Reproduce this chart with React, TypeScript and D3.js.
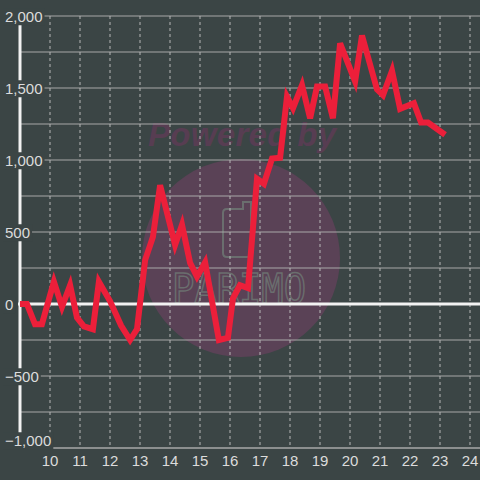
import React, { useEffect, useRef } from "react";
import * as d3 from "d3";

const times = [
  9.0, 9.23, 9.5, 9.73, 10.13, 10.4, 10.67, 10.9, 11.13, 11.43, 11.63, 12.0, 12.37, 12.67, 12.9,
  13.17, 13.43, 13.67, 14.17, 14.4, 14.67, 14.9, 15.17, 15.63, 15.93, 16.1, 16.33, 16.6, 16.9,
  17.13, 17.4, 17.67, 17.9, 18.1, 18.4, 18.67, 18.9, 19.17, 19.43, 19.67, 20.17, 20.4, 20.9,
  21.1, 21.4, 21.67, 22.13, 22.37, 22.6, 23.17,
];
const values = [
  0, 0, -140, -140, 155, -20, 130, -95, -155, -175, 155, 20, -150, -250, -175,
  305, 465, 825, 410, 550, 285, 190, 290, -250, -235, 40, 130, 110, 870,
  835, 1010, 1015, 1440, 1360, 1520, 1290, 1510, 1510, 1290, 1810, 1545, 1865, 1490,
  1450, 1620, 1355, 1395, 1260, 1260, 1175,
];
const yTicks = [-1000, -750, -500, -250, 0, 250, 500, 750, 1000, 1250, 1500, 1750, 2000];
const yLabelTicks = [-1000, -500, 0, 500, 1000, 1500, 2000];
const xTicks = [10, 11, 12, 13, 14, 15, 16, 17, 18, 19, 20, 21, 22, 23, 24];

export default function App() {
  const ref = useRef<SVGSVGElement>(null);
  useEffect(() => {
    const W = 480, H = 480;
    const svg = d3.select(ref.current);
    svg.selectAll("*").remove();
    const bg = "#3b4545";
    svg.append("rect").attr("width", W).attr("height", H).attr("fill", bg);

    const x = d3.scaleLinear().domain([9, 24.333]).range([20, 480]);
    const y = d3.scaleLinear().domain([-1000, 2000]).range([448, 16]);

    // watermark
    const wm = svg.append("g");
    wm.append("circle").attr("cx", 241).attr("cy", 258).attr("r", 99).attr("fill", "#5a4256");
    wm.append("text").attr("x", 148).attr("y", 146).attr("font-family", "Liberation Sans, Arial, sans-serif")
      .attr("font-size", 33).attr("font-weight", "bold").attr("font-style", "italic")
      .attr("fill", "#573d52").attr("textLength", 188).text("Powered by");
    wm.append("path")
      .attr("d", "M227,209 L243,209 L243,202 L251,202 L251,253 Q251,257 247,257 L227,257 Q223,257 223,253 L223,213 Q223,209 227,209 Z")
      .attr("fill", "none").attr("stroke", "#6a6e6e").attr("stroke-width", 2);
    wm.append("text").attr("x", 172).attr("y", 303).attr("font-family", "DejaVu Sans Mono, monospace")
      .attr("font-size", 40).attr("fill", "none").attr("stroke", "#6a6e6e").attr("stroke-width", 1.5)
      .attr("textLength", 134).attr("lengthAdjust", "spacingAndGlyphs").text("PARIMO");

    // horizontal grid
    svg.append("g").selectAll("line").data(yTicks.filter((t) => t !== 0 && t !== -1000)).join("line")
      .attr("x1", 20).attr("x2", W).attr("y1", (d) => y(d)).attr("y2", (d) => y(d))
      .attr("stroke", "#a8a8a8").attr("stroke-width", 1);
    // bottom line
    svg.append("line").attr("x1", x(10)).attr("x2", W).attr("y1", y(-1000)).attr("y2", y(-1000))
      .attr("stroke", "#a8a8a8").attr("stroke-width", 1.5);
    // vertical dashed grid
    svg.append("g").selectAll("line").data(xTicks).join("line")
      .attr("x1", (d) => x(d)).attr("x2", (d) => x(d)).attr("y1", y(2000)).attr("y2", y(-1000))
      .attr("stroke", "#b8b8b8").attr("stroke-width", 1).attr("stroke-dasharray", "3,3");

    // y axis line
    svg.append("line").attr("x1", 20).attr("x2", 20).attr("y1", y(2000)).attr("y2", y(-1000))
      .attr("stroke", "#f2f2f2").attr("stroke-width", 3);
    // zero line
    svg.append("line").attr("x1", 18).attr("x2", W).attr("y1", y(0)).attr("y2", y(0))
      .attr("stroke", "#f2f2f2").attr("stroke-width", 3);

    // y labels with background boxes
    const fmt = d3.format(",");
    const lg = svg.append("g");
    yLabelTicks.forEach((t) => {
      const g = lg.append("g");
      const rect = g.append("rect").attr("fill", bg);
      const yy = t === -1000 ? y(t) - 7 : y(t) + 1;
      const txt = g.append("text").attr("x", 5).attr("y", yy).attr("dy", "0.35em")
        .attr("font-family", "Liberation Sans, Arial, sans-serif").attr("font-size", 15)
        .attr("fill", "#dcdcdc").text(fmt(t));
      const bb = (txt.node() as SVGTextElement).getBBox();
      rect.attr("x", bb.x - 2).attr("y", bb.y).attr("width", bb.width + 4).attr("height", bb.height);
    });

    // x labels
    svg.append("g").selectAll("text").data(xTicks).join("text")
      .attr("x", (d) => x(d)).attr("y", 461).attr("dy", "0.35em").attr("text-anchor", "middle")
      .attr("font-family", "Liberation Sans, Arial, sans-serif").attr("font-size", 15)
      .attr("fill", "#dcdcdc").text((d) => String(d));

    // data line
    const pts = times.map((t, i) => [t, values[i]] as [number, number]);
    const line = d3.line<[number, number]>().x((d) => x(d[0])).y((d) => y(d[1]));
    svg.append("path").attr("d", line(pts)).attr("fill", "none").attr("stroke", "#ec1f3a")
      .attr("stroke-width", 6).attr("stroke-linejoin", "miter").attr("stroke-miterlimit", 4);
  }, []);
  return <svg ref={ref} width={480} height={480} style={{ position: "absolute", left: 0, top: 0 }} />;
}
